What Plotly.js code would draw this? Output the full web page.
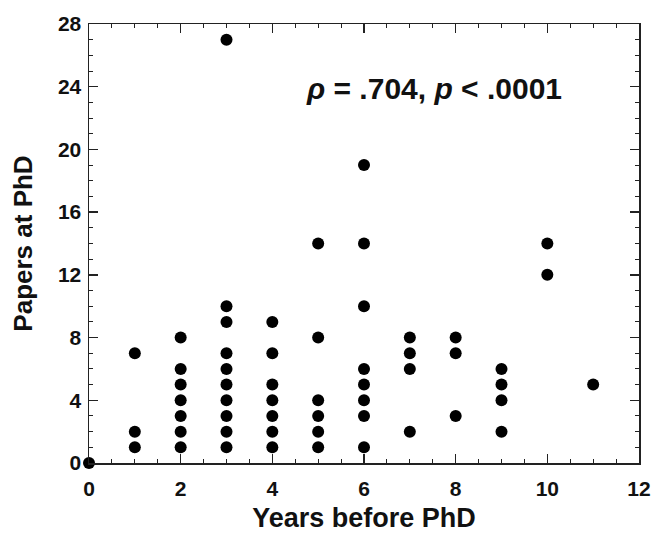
<!DOCTYPE html>
<html>
<head>
<meta charset="utf-8">
<script src="https://cdn.plot.ly/plotly-3.0.1.min.js"></script>
<style>html,body{margin:0;padding:0;background:#fff;}#chart{width:653px;height:533px;}</style>
</head>
<body>
<div id="chart"></div>
<script>
// Years before PhD (x) and papers at PhD (y), one entry per subject
const yearsBeforePhD = [0,
  1,1,1,
  2,2,2,2,2,2,2,
  3,3,3,3,3,3,3,3,3,3,
  4,4,4,4,4,4,4,
  5,5,5,5,5,5,
  6,6,6,6,6,6,6,6,
  7,7,7,7,
  8,8,8,
  9,9,9,9,
  10,10,
  11];
const papersAtPhD = [0,
  1,2,7,
  1,2,3,4,5,6,8,
  1,2,3,4,5,6,7,9,10,27,
  1,2,3,4,5,7,9,
  1,2,3,4,8,14,
  1,3,4,5,6,10,14,19,
  2,6,7,8,
  3,7,8,
  2,4,5,6,
  12,14,
  5];
const xTicks = [0,2,4,6,8,10,12];
const yTicks = [0,4,8,12,16,20,24,28];
const statText = "<b><i>ρ</i> = .704, <i>p</i> &lt; .0001</b>";

const fontFam = "Liberation Sans, Arial, Helvetica, sans-serif";
const axisCommon = {
  showgrid: false, zeroline: false,
  showline: true, linecolor: '#222', linewidth: 1.5,
  mirror: 'ticks', ticks: 'inside', ticklen: 9, tickwidth: 1.3, tickcolor: '#222',
  tickfont: {family: fontFam, size: 21, color: '#111', weight: 'bold'},
  tickmode: 'array'
};

const trace = {
  x: yearsBeforePhD, y: papersAtPhD, type: 'scatter', mode: 'markers',
  marker: {color: '#000', size: 12},
  cliponaxis: false, hoverinfo: 'none'
};

const layout = {
  width: 653, height: 533,
  margin: {l: 89, r: 14, t: 24, b: 70},
  paper_bgcolor: '#fff', plot_bgcolor: '#fff',
  showlegend: false,
  xaxis: Object.assign({}, axisCommon, {
    range: [0, 12], tickvals: xTicks, ticktext: xTicks.map(String),
    ticklabelstandoff: 6,
    minor: {dtick: 0.5, ticks: 'inside', ticklen: 4, tickwidth: 1, tickcolor: '#222', showgrid: false},
    title: {text: 'Years before PhD', font: {family: fontFam, size: 27, color: '#111', weight: 'bold'}, standoff: 14}
  }),
  yaxis: Object.assign({}, axisCommon, {
    range: [0, 28], tickvals: yTicks, ticktext: yTicks.map(String),
    ticklabelstandoff: 2,
    minor: {dtick: 1, ticks: 'inside', ticklen: 4, tickwidth: 1, tickcolor: '#222', showgrid: false},
    title: {text: 'Papers at PhD', font: {family: fontFam, size: 26, color: '#111', weight: 'bold'}, standoff: 18}
  }),
  annotations: [{
    x: 7.53, y: 23.9, xref: 'x', yref: 'y', text: statText, showarrow: false,
    xanchor: 'center', yanchor: 'middle',
    font: {family: fontFam, size: 30, color: '#111'}
  }]
};

Plotly.newPlot('chart', [trace], layout, {displayModeBar: false, staticPlot: true});
</script>
</body>
</html>
